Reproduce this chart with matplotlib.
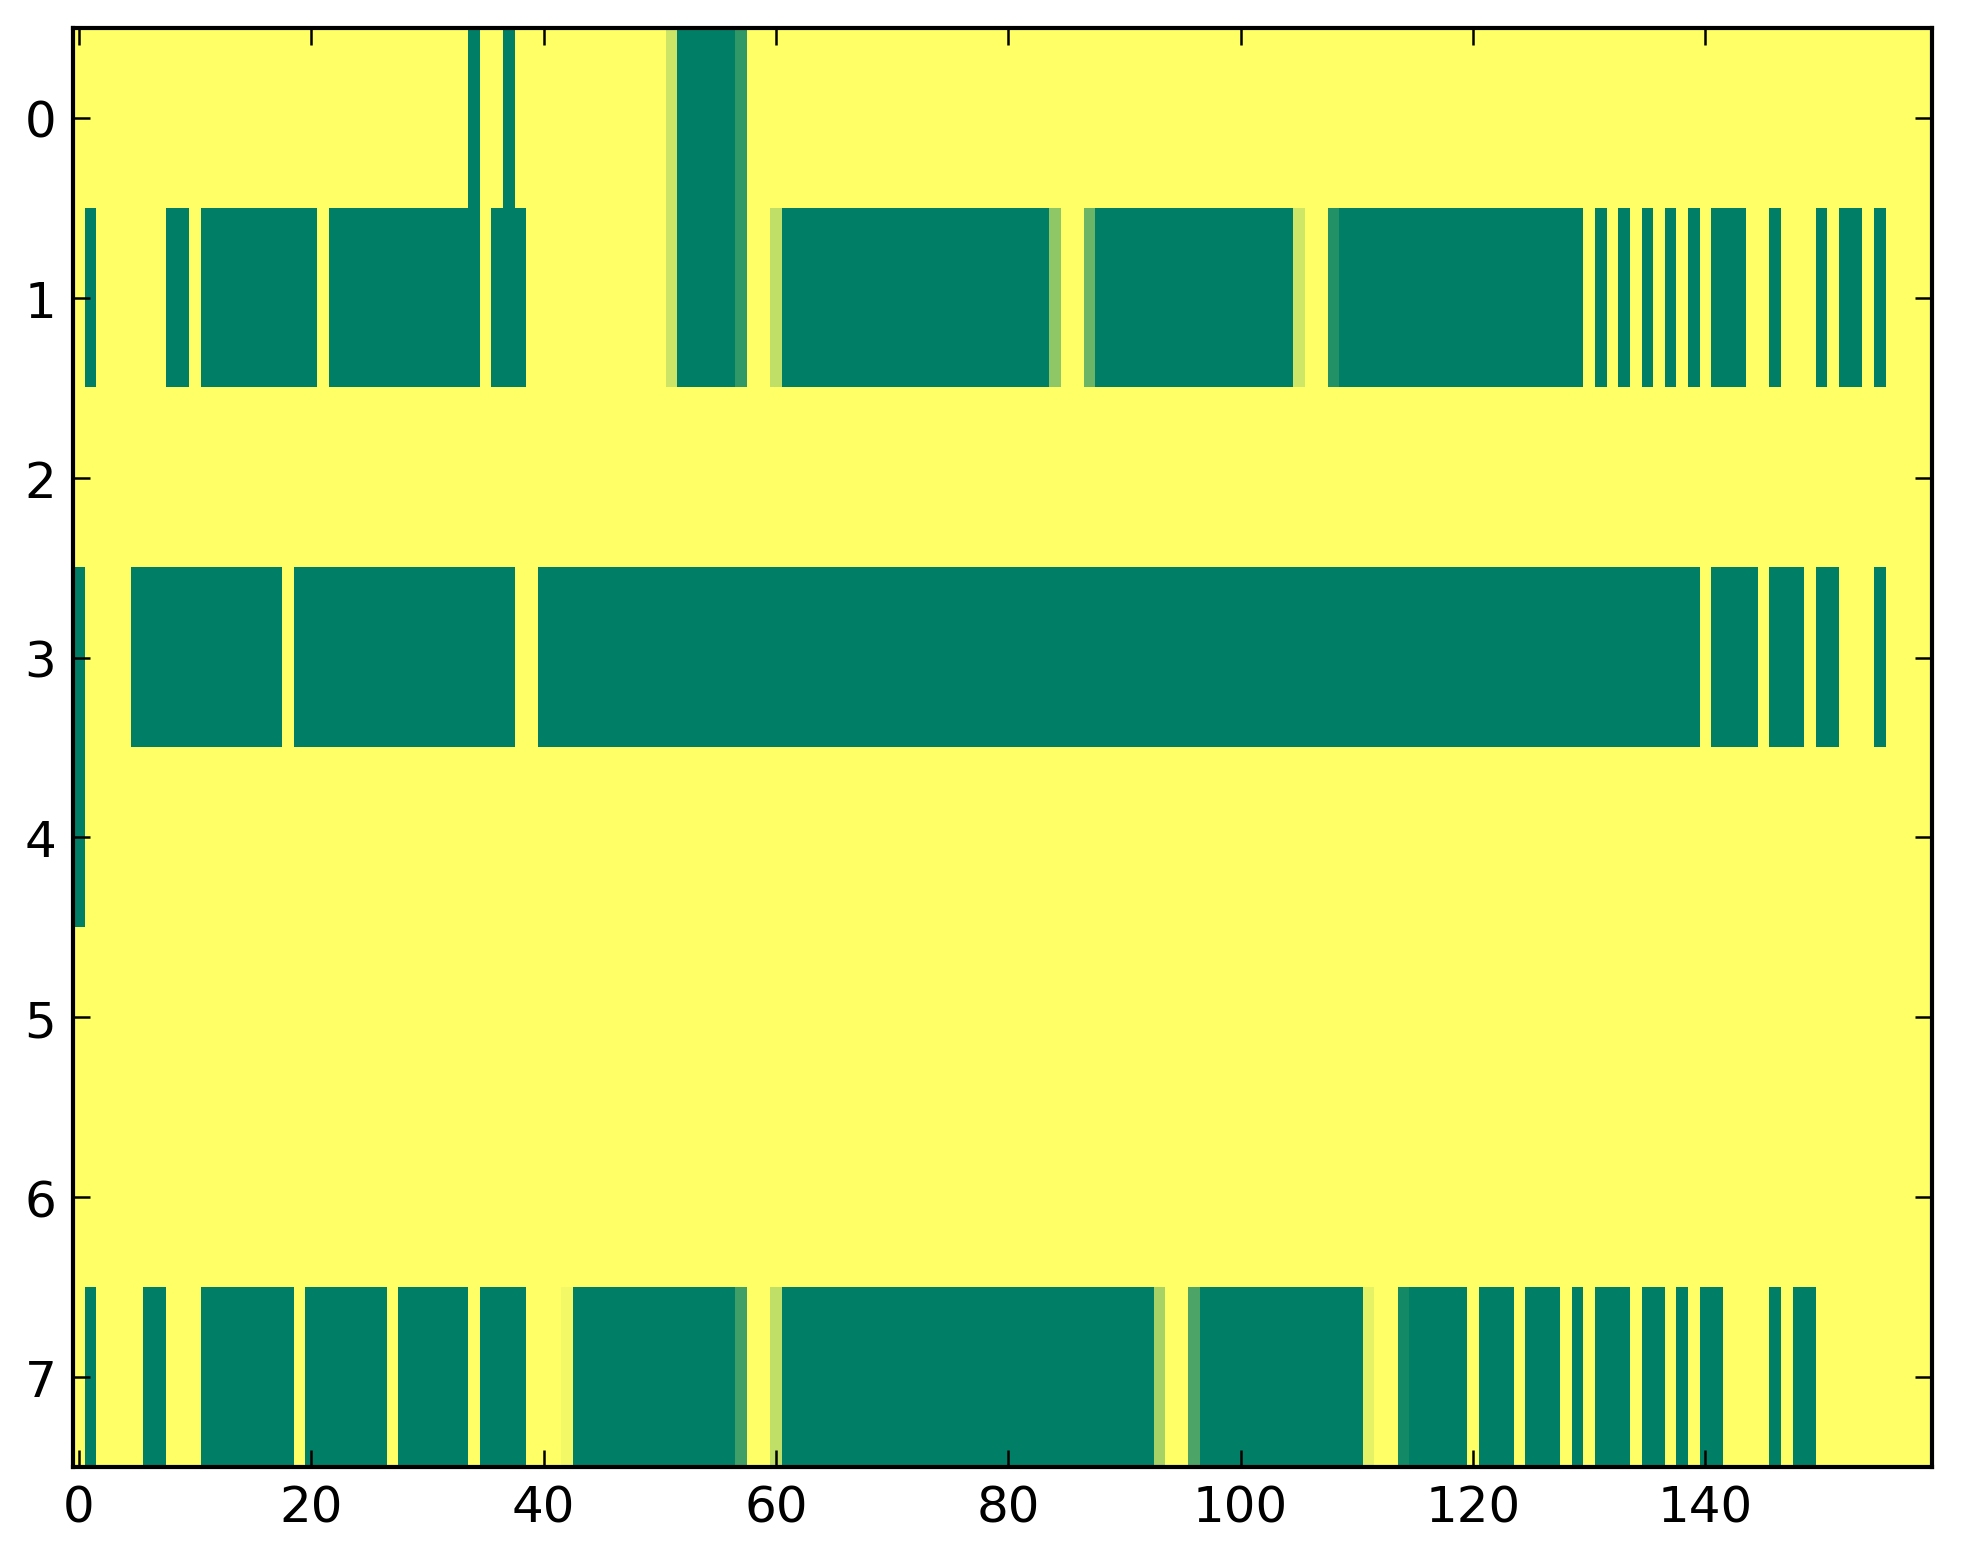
#heat strip chart: 8 rows x 160 columns on the summer colormap
import numpy as np
import matplotlib
matplotlib.use("Agg")
import matplotlib.pyplot as plt

ncols = 160
nrows = 8

#green (0) runs per row, inclusive column ranges
runs_row0 = [(34, 34), (37, 37), (52, 56)]
runs_row1 = [(1, 1), (8, 9), (11, 20), (22, 34), (36, 38), (52, 56), (61, 83),
             (88, 104), (109, 129), (131, 131), (133, 133), (135, 135),
             (137, 137), (139, 139), (141, 143), (146, 146), (150, 150),
             (152, 153), (155, 155)]
runs_row2 = []
runs_row3 = [(0, 0), (5, 17), (19, 37), (40, 139), (141, 144), (146, 148),
             (150, 151), (155, 155)]
runs_row4 = [(0, 0)]
runs_row5 = []
runs_row6 = []
runs_row7 = [(1, 1), (6, 7), (11, 18), (20, 26), (28, 33), (35, 38), (43, 56),
             (61, 92), (97, 110), (115, 119), (121, 123), (125, 127),
             (129, 129), (131, 133), (135, 136), (138, 138), (140, 141),
             (146, 146), (148, 149)]

#in-between values per row (column: value)
mid_row0 = {51: 0.80, 57: 0.19}
mid_row1 = {51: 0.80, 57: 0.19, 60: 0.75, 84: 0.56, 87: 0.42, 105: 0.81, 108: 0.14}
mid_row7 = {42: 0.95, 57: 0.25, 60: 0.75, 93: 0.65, 96: 0.30, 111: 0.90, 114: 0.08}

all_runs = [runs_row0, runs_row1, runs_row2, runs_row3,
            runs_row4, runs_row5, runs_row6, runs_row7]
all_mids = {0: mid_row0, 1: mid_row1, 7: mid_row7}

grid = np.ones((nrows, ncols))
for r, runs in enumerate(all_runs):
    for a, b in runs:
        grid[r, a:b + 1] = 0.0
for r, mids in all_mids.items():
    for c, v in mids.items():
        grid[r, c] = v

W, H, dpi = 1963, 1564, 300
fig = plt.figure(figsize=(W / dpi, H / dpi), dpi=dpi)
ax = fig.add_axes([73 / W, 1 - 1468 / H, (1932 - 73) / W, (1468 - 29) / H])

ax.imshow(grid, cmap="summer", vmin=0, vmax=1, aspect="auto",
          interpolation="nearest")

ax.set_xticks(np.arange(0, 141, 20))
ax.set_yticks(np.arange(0, 8))
ax.tick_params(direction="in", top=True, right=True, length=4, width=0.6,
               labelsize=12, pad=4)
for s in ax.spines.values():
    s.set_linewidth(1.0)

fig.savefig("out.png", dpi=dpi)
